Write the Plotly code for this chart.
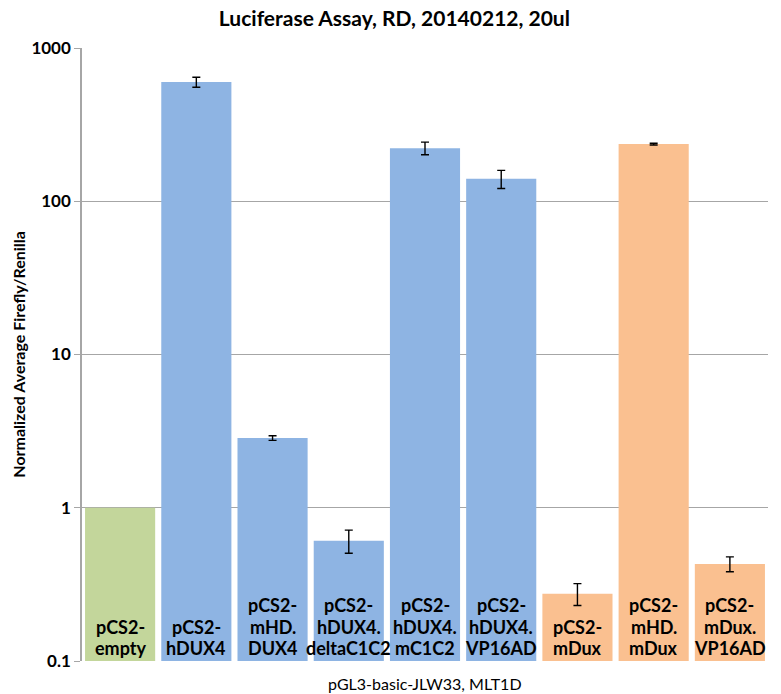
import plotly.graph_objects as go

# Luciferase reporter readout (normalized firefly/renilla), pGL3-basic-JLW33 MLT1D
constructs = ["empty", "hDUX4", "DUX4", "deltaC1C2", "mC1C2", "VP16AD", "mDux", "mDux", "VP16AD"]
label_lines = [
    ["pCS2-", "empty"],
    ["pCS2-", "hDUX4"],
    ["pCS2-", "mHD.", "DUX4"],
    ["pCS2-", "hDUX4.", "deltaC1C2"],
    ["pCS2-", "hDUX4.", "mC1C2"],
    ["pCS2-", "hDUX4.", "VP16AD"],
    ["pCS2-", "mDux"],
    ["pCS2-", "mHD.", "mDux"],
    ["pCS2-", "mDux.", "VP16AD"],
]
values = [1.0, 600, 2.85, 0.61, 222, 140, 0.275, 236, 0.43]
errors = [None, 45, 0.1, 0.105, 21, 19, 0.045, 3, 0.048]
groups = ["control", "human", "human", "human", "human", "human", "mouse", "mouse", "mouse"]
group_colors = {"control": "#C3D69B", "human": "#8EB4E3", "mouse": "#FAC090"}
y_ticks = [0.1, 1, 10, 100, 1000]
y_tick_text = ["0.1", "1", "10", "100", "1000"]

positions = list(range(len(constructs)))
colors = [group_colors[g] for g in groups]

font_family = "Lato, 'Open Sans', sans-serif"

fig = go.Figure()
fig.add_trace(go.Bar(
    x=positions,
    y=values,
    marker=dict(color=colors, line=dict(width=0)),
    width=0.92,
    showlegend=False,
    hoverinfo="skip",
))

# error bars only where a deviation was measured (the normalizer has none)
err_idx = [i for i, e in enumerate(errors) if e is not None]
fig.add_trace(go.Scatter(
    x=[positions[i] for i in err_idx],
    y=[values[i] for i in err_idx],
    mode="markers",
    marker=dict(size=1, opacity=0),
    error_y=dict(type="data", array=[errors[i] for i in err_idx], visible=True,
                 color="black", thickness=1.4, width=4),
    showlegend=False,
    hoverinfo="skip",
))

# category labels drawn inside the plot, one annotation per text line,
# stacked upward from the bottom edge
line_step = 21.5
for pos, lines in zip(positions, label_lines):
    for k, line in enumerate(reversed(lines)):
        fig.add_annotation(
            x=pos, xref="x", y=0, yref="paper",
            text=line,
            showarrow=False, xanchor="center", yanchor="middle",
            yshift=13 + line_step * k,
            font=dict(family=font_family, size=18, color="black", weight="bold"),
        )

fig.add_annotation(
    x=0.5, xref="paper", y=-0.036, yref="paper",
    text="pGL3-basic-JLW33, MLT1D",
    showarrow=False, xanchor="center", yanchor="middle",
    font=dict(family=font_family, size=16, color="black"),
)
fig.add_annotation(
    x=-0.093, xref="paper", y=0.5, yref="paper",
    text="Normalized Average Firefly/Renilla",
    showarrow=False, textangle=-90, xanchor="center", yanchor="middle",
    font=dict(family=font_family, size=16, color="black", weight="bold"),
)

fig.update_layout(
    width=781, height=694,
    margin=dict(l=82, r=13, t=48, b=33),
    paper_bgcolor="white",
    plot_bgcolor="white",
    title=dict(
        text="Luciferase Assay, RD, 20140212, 20ul",
        x=0.505, xref="container", xanchor="center",
        y=0.973, yref="container", yanchor="middle",
        font=dict(family=font_family, size=21, color="black", weight="bold"),
    ),
    bargap=0.08,
    xaxis=dict(
        range=[-0.5, len(constructs) - 0.5],
        showticklabels=False, showgrid=False, zeroline=False,
        showline=False, ticks="",
    ),
    yaxis=dict(
        type="log", range=[-1, 3],
        tickvals=y_ticks, ticktext=y_tick_text,
        tickfont=dict(family=font_family, size=17, color="black", weight="bold"),
        showgrid=True, gridcolor="#A6A6A6", gridwidth=1,
        showline=True, linecolor="#A6A6A6", linewidth=1.5,
        ticks="outside", ticklen=6, tickcolor="#A6A6A6",
        zeroline=False,
    ),
)

fig.write_html("out.html")
